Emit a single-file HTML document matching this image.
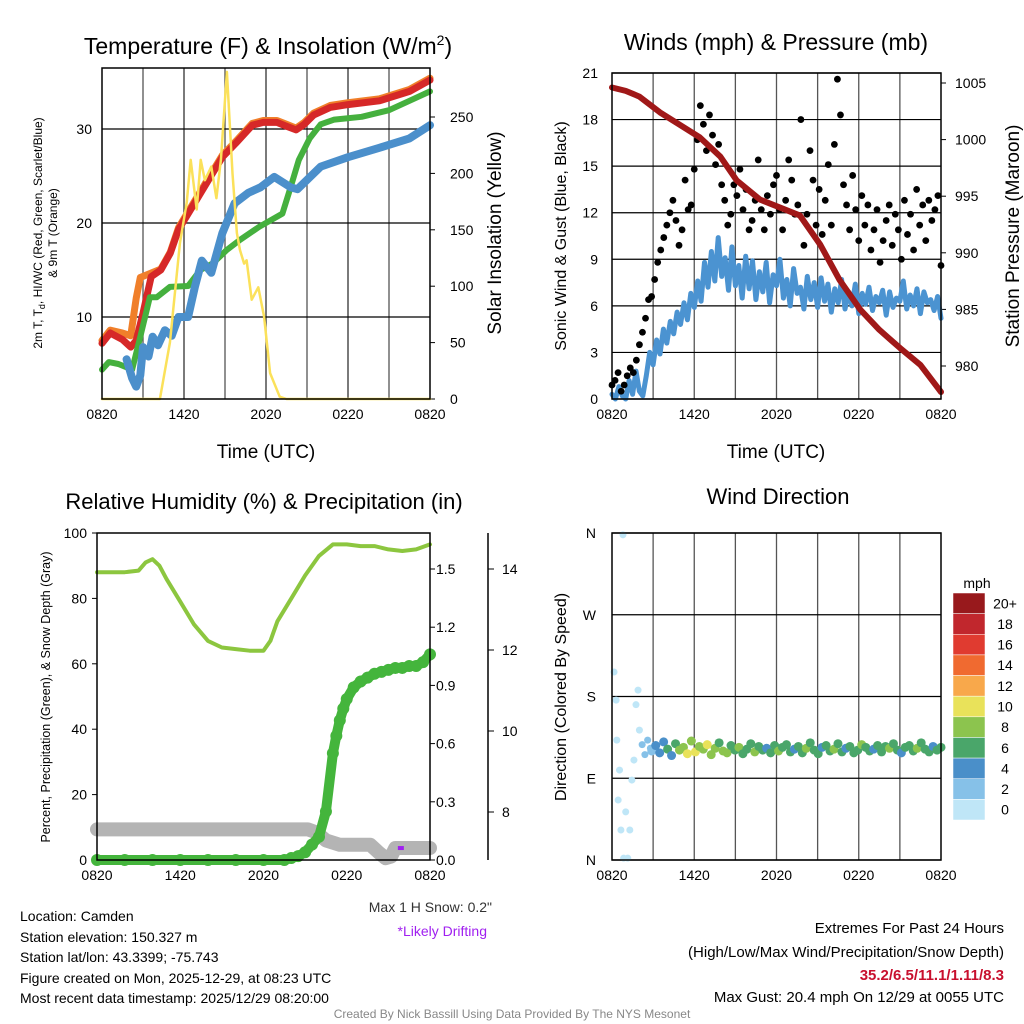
<!DOCTYPE html>
<html><head><meta charset="utf-8"><style>
html,body{margin:0;padding:0;background:#fff}
svg{display:block;font-family:"Liberation Sans",sans-serif}
</style></head><body>
<svg id="s" width="1024" height="1024" viewBox="0 0 1024 1024" xmlns="http://www.w3.org/2000/svg">
<g id="static">
<text x="268" y="54" font-size="23" text-anchor="middle">Temperature (F) &amp; Insolation (W/m<tspan dy="-9" font-size="14">2</tspan><tspan dy="9">)</tspan></text>
<text x="776" y="50" font-size="23" text-anchor="middle">Winds (mph) &amp; Pressure (mb)</text>
<text x="264" y="509" font-size="22" text-anchor="middle">Relative Humidity (%) &amp; Precipitation (in)</text>
<text x="778" y="504" font-size="22" text-anchor="middle">Wind Direction</text>
<text x="266" y="458" font-size="19" text-anchor="middle">Time (UTC)</text>
<text x="776" y="458" font-size="19" text-anchor="middle">Time (UTC)</text>
<text transform="translate(42,233) rotate(-90)" font-size="12" text-anchor="middle">2m T, T<tspan font-size="9" dy="3">d</tspan><tspan dy="-3">, HI/WC (Red, Green, Scarlet/Blue)</tspan></text>
<text transform="translate(57,233) rotate(-90)" font-size="12" text-anchor="middle">&amp; 9m T (Orange)</text>
<text transform="translate(501,233) rotate(-90)" font-size="19" text-anchor="middle">Solar Insolation (Yellow)</text>
<text transform="translate(566,236) rotate(-90)" font-size="16" text-anchor="middle">Sonic Wind &amp; Gust (Blue, Black)</text>
<text transform="translate(1019,236) rotate(-90)" font-size="19" text-anchor="middle">Station Pressure (Maroon)</text>
<text transform="translate(50,697) rotate(-90)" font-size="12.5" text-anchor="middle">Percent, Precipitation (Green), &amp; Snow Depth (Gray)</text>
<text transform="translate(566,697) rotate(-90)" font-size="16" text-anchor="middle">Direction (Colored By Speed)</text>
<text x="492" y="912" font-size="14" text-anchor="end" fill="#333">Max 1 H Snow: 0.2"</text>
<text x="487" y="936" font-size="14" text-anchor="end" fill="#a020f0">*Likely Drifting</text>
<g font-size="14">
<text x="20" y="921">Location: Camden</text>
<text x="20" y="942">Station elevation: 150.327 m</text>
<text x="20" y="962">Station lat/lon: 43.3399; -75.743</text>
<text x="20" y="983">Figure created on Mon, 2025-12-29, at 08:23 UTC</text>
<text x="20" y="1003">Most recent data timestamp: 2025/12/29 08:20:00</text>
</g>
<g font-size="15" text-anchor="end">
<text x="1004" y="933">Extremes For Past 24 Hours</text>
<text x="1004" y="957">(High/Low/Max Wind/Precipitation/Snow Depth)</text>
<text x="1004" y="980" fill="#c8102e" font-weight="bold">35.2/6.5/11.1/1.11/8.3</text>
<text x="1004" y="1002">Max Gust: 20.4 mph On 12/29 at 0055 UTC</text>
</g>
<text x="512" y="1018" font-size="12" text-anchor="middle" fill="#888">Created By Nick Bassill Using Data Provided By The NYS Mesonet</text>
</g>
<g id="dyn"></g>
</svg>
<script>
// ---------- DATA ----------
const timeLabels = ["0820","1420","2020","0220","0820"];
const tempT = [0,0.6,1.5,2.1,2.5,3.0,3.6,4.3,5.0,5.6,6.6,7.8,8.8,9.8,11.0,11.8,12.8,13.5,14.2,14.8,15.5,16.7,18.0,20.3,22.5,24];
const tempRed = [7.2,8.3,7.6,6.8,7.5,10.4,14.3,15.0,16.8,19.3,21.7,24.6,27.0,28.5,30.4,30.7,30.7,30.3,29.9,30.5,31.5,32.3,32.6,33.0,34.0,35.2];
const tempOrangeT = [0,0.6,1.5,2.1,2.5,2.8,3.3,4.3,5.0,5.6,6.6,7.8,8.8,9.8,11.0,11.8,12.8,13.5,14.2,14.8,15.5,16.7,18.0,20.3,22.5,24];
const tempOrange = [7.5,8.6,8.3,8.0,12.0,14.2,14.5,15.1,16.9,19.5,21.9,24.8,27.2,28.7,30.6,30.9,30.9,30.5,30.1,30.7,31.7,32.5,32.8,33.2,34.2,35.4];
const dewT = [0,0.5,1.2,2.2,2.8,3.5,4.0,4.97,6.3,7.2,8.1,9.1,10.1,11.5,13.2,13.8,14.4,15.2,16,17,19,21,22.5,24];
const dewGreen = [4.4,5.2,5.0,4.4,7.9,12.1,12.1,13.2,13.3,15.0,15.7,17.1,18.2,19.6,21.0,23.8,26.7,29.0,30.5,31.0,31.3,32.0,33.0,34.0];
const wcT = [1.8,2.2,2.5,2.8,3.0,3.4,3.7,4.1,4.6,5.1,5.6,6.3,6.8,7.3,8.0,8.8,9.7,10.7,11.6,12.6,13.8,14.3,16,18,20.3,22.5,24];
const wcBlue = [5.5,3.5,2.6,3.8,6.8,5.8,7.9,7.0,8.6,8.0,10.0,10.0,13.2,16.0,14.7,18.9,22.1,23.2,23.8,24.9,23.8,23.6,26.0,27.0,28.0,29.0,30.4];
const solarT = [0,4.24,4.97,5.7,6.2,6.49,6.93,7.22,7.53,8.0,8.37,8.7,9.14,9.55,9.87,10.1,10.4,10.58,10.95,11.44,11.86,12.3,13.0,13.5,24];
const solarW = [0,0,50,138,174,212,168,212,194,206,178,212,290,200,147,132,120,123,88,99,73,23,2,0,0];
const leftTicks = [10,20,30];
const solarTicks = [0,50,100,150,200,250];

const sonicWind = [0.3,0.0,0.8,0.2,0.0,1.2,0.3,1.8,0.5,0.2,1.5,3.0,2.2,3.8,2.9,4.5,3.6,5.0,4.2,5.6,4.8,6.2,5.1,6.8,5.9,7.6,6.3,8.8,7.2,9.5,7.6,10.4,7.9,9.1,7.0,9.8,7.3,8.6,6.5,9.2,7.1,8.9,6.4,8.2,6.9,8.8,6.2,8.0,7.3,9.0,6.5,7.7,6.0,8.4,6.8,7.2,5.8,7.9,6.4,7.5,5.9,7.8,6.3,7.4,5.6,7.1,6.2,7.7,5.8,6.9,6.0,7.4,5.5,6.8,6.1,7.2,5.7,6.6,6.2,7.0,5.4,6.9,5.9,6.5,6.3,7.6,5.8,6.7,6.0,7.1,5.5,6.9,6.2,6.4,5.7,6.6,5.2];
const gustValues = [0.9,1.2,1.7,0.5,0.9,1.5,2.0,1.7,2.5,3.5,4.3,5.2,6.4,6.6,7.7,8.8,9.6,10.4,11.2,12.0,12.8,11.5,9.9,10.9,14.1,12.2,12.5,14.8,16.7,18.9,17.7,16.0,18.3,17.0,15.1,16.4,13.8,12.8,11.2,11.9,13.8,13.1,14.8,12.2,13.5,10.9,11.5,12.8,15.4,12.2,10.9,13.1,11.9,13.8,14.4,12.2,10.9,12.8,15.4,14.1,11.9,12.5,18.0,9.9,11.9,16.0,14.1,11.2,13.5,10.6,12.8,15.1,11.2,16.4,20.6,18.3,13.8,12.5,10.9,14.4,12.2,10.2,13.1,11.2,12.5,9.6,10.9,12.2,8.8,10.2,11.5,12.5,9.9,11.9,10.9,9.0,12.8,10.6,11.9,9.6,13.5,11.2,12.5,10.2,12.8,11.5,12.2,13.1,8.6];
const pressT = [0,1,2,3.5,6.4,7.9,9.1,10.8,13.7,15.2,16.6,18.1,19.5,21,22.5,24];
const pressMb = [1004.6,1004.3,1003.8,1002.4,1000.2,998.5,996.4,994.7,993.3,990.7,987.6,985,983.2,981.6,980.1,977.7];
const windTicks = [0,3,6,9,12,15,18,21];
const pressTicks = [980,985,990,995,1000,1005];

const rhT = [0,1,2,3,3.5,4,4.5,5,6,7,8,9,10,11,12,12.5,13,14,15,16,17,18,19,20,21,22,23,24];
const rhPct = [88,88,88,88.5,91,92,90,86,79,72,67,65,64.5,64,64,67,73,80,87,93,96.5,96.5,96,96,95,94.5,95,96.5];
const precipT = [0,2,4,6,8,10,12,13.5,14,14.5,15,15.5,16,16.5,17,17.25,17.5,17.75,18,18.5,19,19.5,20,20.5,21,21.5,22,22.5,23,23.5,24];
const precipIn = [0,0,0,0,0,0,0,0,0.01,0.02,0.04,0.08,0.12,0.25,0.55,0.64,0.72,0.78,0.83,0.89,0.92,0.94,0.96,0.97,0.98,0.99,0.99,1.0,1.0,1.02,1.06];
const snowT = [0,15.2,15.8,16.5,17.5,19.7,20.3,20.8,21.2,21.5,24];
const snowIn = [7.57,7.57,7.5,7.3,7.19,7.19,7.0,6.86,6.9,7.11,7.11];
const pctTicks = [0,20,40,60,80,100];
const precipTicks = [0.0,0.3,0.6,0.9,1.2,1.5];
const snowTicks = [8,10,12,14];

const dirEarlyT = [0.15,0.3,0.35,0.45,0.55,0.65,0.8,0.85,1.0,1.15,1.3,1.45,1.6,1.75,1.9,2.0,2.2,2.4,2.6,2.8];
const dirEarlyDeg = [207,176,132,66,99,33,358,2,53,2,33,88,110,171,187,143,127,116,132,123];
const dirEarlySpd = [1,1,1,1,0,1,1,1,1,0,1,1,1,1,1,1,2,2,2,3];
const dirBandDeg = [120,126,118,130,122,115,128,121,124,117,131,119,125,122,127,116,123,129,120,118,126,121,124,117,122,128,119,125,121,123,118,126,120,124,127,119,122,125,118,123,129,121,117,124,126,120,122,128,119,123,125,118,121,127,124,120,122,126,119,125,123,128,121,118,124,126,120,123,129,122,119,125,121,124];
const dirBandSpd = [3,4,5,4,6,5,7,8,9,10,9,10,9,8,10,9,8,7,9,8,7,6,8,7,6,7,8,6,7,5,6,7,8,6,7,6,5,7,6,8,7,6,7,5,6,7,8,6,7,5,6,7,6,8,6,7,5,6,7,6,8,7,6,5,7,6,7,8,6,7,6,5,7,6];
const speedBinLabels = ["0","2","4","6","8","10","12","14","16","18","20+"];
const speedBinColors = ["#bfe6f7","#86c1e8","#4a8fc9","#4aa66a","#8cc44e","#e9e25a","#f8a84b","#f06a30","#e03b30","#c1272d","#98191c"];
const dirLabels = ["N","E","S","W","N"];

// ---------- HELPERS ----------
const NS="http://www.w3.org/2000/svg";
const dyn=document.getElementById('dyn');
function mk(tag,attrs,parent){const e=document.createElementNS(NS,tag);for(const k in attrs)e.setAttribute(k,attrs[k]);(parent||dyn).appendChild(e);return e;}
function txt(x,y,s,size,anchor,parent){const e=mk('text',{x:x,y:y,'font-size':size,'text-anchor':anchor||'middle'},parent);e.textContent=s;return e;}
function line(x1,y1,x2,y2,c,w,parent){return mk('line',{x1:x1,y1:y1,x2:x2,y2:y2,stroke:c,'stroke-width':w},parent);}
function poly(ts,vs,sx,sy,c,w,parent){const p=ts.map((t,i)=>sx(t).toFixed(1)+','+sy(vs[i]).toFixed(1)).join(' ');return mk('polyline',{points:p,fill:'none',stroke:c,'stroke-width':w,'stroke-linejoin':'round','stroke-linecap':'round'},parent);}
function linScale(d0,d1,r0,r1){return v=>r0+(v-d0)/(d1-d0)*(r1-r0);}
function timeAxis(x0,x1,yb,g){
  const sx=linScale(0,24,x0,x1);
  timeLabels.forEach((l,i)=>{const t=txt(sx(i*6),yb+20,l,14,'middle',g);
    
    });
  return sx;
}

// ---------- PANEL 1 ----------
(function(){
  const g=mk('g',{});
  
  
  const X0=102,X1=430,Y0=68,Y1=399;
  const sx=linScale(0,24,X0,X1);
  const sy=linScale(10,20,317,223);
  const sw=linScale(0,250,399,117);
  for(let h=3;h<24;h+=3) line(sx(h),Y0,sx(h),Y1,h%6?'#555':'#333',1.3,g);
  leftTicks.forEach(v=>{line(X0,sy(v),X1,sy(v),'#000',1.3,g);
    const t=txt(X0-10,sy(v)+5,String(v),14,'end',g);
    
    });
  solarTicks.forEach(v=>{line(X1,sw(v),X1+5,sw(v),'#000',1,g);
    const t=txt(X1+20,sw(v)+5,String(v),14,'start',g);
    
    });
  const o=poly(tempOrangeT,tempOrange,sx,sy,'#f07f2a',7,g);
  
  
  const r=poly(tempT,tempRed,sx,sy,'#d62828',7,g);
  
  
  const gr=poly(dewT,dewGreen,sx,sy,'#45b03e',6,g);
  
  
  const b=poly(wcT,wcBlue,sx,sy,'#4b8fcb',8,g);
  
  
  const y=poly(solarT,solarW,sx,sw,'#fbe15a',2.5,g);
  
  
  const fr=mk('rect',{x:X0,y:Y0,width:X1-X0,height:Y1-Y0,fill:'none',stroke:'#000','stroke-width':1.5},g);
  
  
  timeAxis(X0,X1,Y1,g);
})();

// ---------- PANEL 2 ----------
(function(){
  const g=mk('g',{});
  
  
  const X0=612,X1=941,Y0=73,Y1=399;
  const sx=linScale(0,24,X0,X1);
  const sy=linScale(0,21,399,73);
  const sp=linScale(980,1005,366,83);
  for(let h=3;h<24;h+=3) line(sx(h),Y0,sx(h),Y1,'#555',1.3,g);
  windTicks.forEach(v=>{line(X0,sy(v),X1,sy(v),'#000',1.2,g);
    const t=txt(X0-14,sy(v)+5,String(v),14,'end',g);
    
    });
  pressTicks.forEach(v=>{line(X1,sp(v),X1+5,sp(v),'#000',1,g);
    const t=txt(X1+14,sp(v)+5,String(v),14,'start',g);
    
    });
  const st=sonicWind.map((v,i)=>i*24/(sonicWind.length-1));
  const s=poly(st,sonicWind,sx,sy,'#4b93d1',5,g);
  
  
  gustValues.forEach((v,i)=>{const c=mk('circle',{cx:sx(i*24/(gustValues.length-1)),cy:sy(v),r:3.4,fill:'#000'},g);
    
    });
  const p=poly(pressT,pressMb,sx,sp,'#a01818',6,g);
  
  
  const fr=mk('rect',{x:X0,y:Y0,width:X1-X0,height:Y1-Y0,fill:'none',stroke:'#000','stroke-width':1.5},g);
  
  
  timeAxis(X0,X1,Y1,g);
})();

// ---------- PANEL 3 ----------
(function(){
  const g=mk('g',{});
  
  
  const X0=97,X1=430,Y0=533,Y1=860;
  const sx=linScale(0,24,X0,X1);
  const sy=linScale(0,100,860,533);
  const spr=linScale(0,1.5,860,569);
  const ssn=linScale(8,14,812,569);
  pctTicks.forEach(v=>{line(X0-5,sy(v),X0,sy(v),'#000',1,g);
    const t=txt(X0-10,sy(v)+5,String(v),14,'end',g);
    
    });
  precipTicks.forEach(v=>{line(X1,spr(v),X1+5,spr(v),'#000',1,g);
    const t=txt(X1+6,spr(v)+5,v.toFixed(1),14,'start',g);
    
    });
  line(488,533,488,860,'#000',1.5,g);
  snowTicks.forEach(v=>{line(488,ssn(v),494,ssn(v),'#000',1,g);
    const t=txt(502,ssn(v)+5,String(v),14,'start',g);
    
    });
  const sn=poly(snowT,snowIn,sx,ssn,'#b4b4b4',14,g);
  
  
  const pl=poly(precipT,precipIn,sx,spr,'#44b53c',10,g);
  
  
  precipT.forEach((t,i)=>{const c=mk('circle',{cx:sx(t),cy:spr(precipIn[i]),r:6,fill:'#44b53c'},g);
    
    });
  const rh=poly(rhT,rhPct,sx,sy,'#8cc63f',4,g);
  
  
  const d=mk('rect',{x:sx(21.9)-3,y:ssn(7.11)-2,width:6,height:4,fill:'#a020f0'},g);
  
  
  const fr=mk('rect',{x:X0,y:Y0,width:X1-X0,height:Y1-Y0,fill:'none',stroke:'#000','stroke-width':1.5},g);
  
  
  timeAxis(X0,X1,Y1,g);
})();

// ---------- PANEL 4 ----------
(function(){
  const g=mk('g',{});
  
  
  const X0=612,X1=941,Y0=533,Y1=860;
  const sx=linScale(0,24,X0,X1);
  const sy=linScale(0,360,860,533);
  for(let h=3;h<24;h+=3) line(sx(h),Y0,sx(h),Y1,'#555',1.3,g);
  dirLabels.forEach((l,i)=>{line(X0,sy(i*90),X1,sy(i*90),'#000',1.2,g);
    const t=txt(X0-16,sy(i*90)+5,l,14,'end',g);
    
    });
  const col=s=>speedBinColors[Math.min(10,Math.floor(s/2))];
  dirEarlyT.forEach((t,i)=>{const c=mk('circle',{cx:sx(t),cy:sy(dirEarlyDeg[i]),r:3.5,fill:col(dirEarlySpd[i])},g);
    
    });
  dirBandDeg.forEach((v,i)=>{const t=2.9+i*(24-2.9)/(dirBandDeg.length-1);
    const c=mk('circle',{cx:sx(t),cy:sy(v),r:4.5,fill:col(dirBandSpd[i])},g);
    
    });
  const fr=mk('rect',{x:X0,y:Y0,width:X1-X0,height:Y1-Y0,fill:'none',stroke:'#000','stroke-width':1.5},g);
  
  
  timeAxis(X0,X1,Y1,g);
  const lg=mk('g',{},g);
  
  
  const ut=txt(977,588,'mph',14,'middle',lg);
  
  
  const bh=(820-593)/speedBinLabels.length;
  speedBinLabels.forEach((l,i)=>{const k=speedBinLabels.length-1-i;
    const r=mk('rect',{x:953,y:593+i*bh,width:32,height:bh,fill:speedBinColors[k],stroke:'#fff','stroke-width':0.5},lg);
    
    
    const t=txt(1005,593+i*bh+bh/2+5,speedBinLabels[k],14,'middle',lg);
    
    });
})();
</script>
</body></html>
